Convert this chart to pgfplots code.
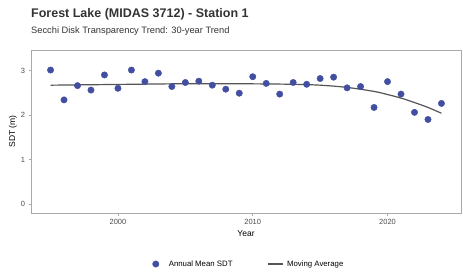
\documentclass[border=0pt]{standalone}
\usepackage{pgfplots}
\pgfplotsset{compat=1.18}
\usepackage{fontspec}
\setmainfont{Liberation Sans}
\setsansfont{Liberation Sans}
\definecolor{ptcol}{RGB}{66,78,160}
\definecolor{linecol}{RGB}{85,85,85}
\definecolor{framecol}{RGB}{170,170,170}
\definecolor{txtcol}{RGB}{77,77,77}
\begin{document}
\begin{tikzpicture}
\path[use as bounding box] (-31pt,-63pt) rectangle (432pt,213pt);
\begin{axis}[
  at={(0pt,0pt)}, anchor=south west,
  scale only axis, width=430pt, height=163pt,
  xmin=1993.55, xmax=2025.45,
  ymin=-0.2, ymax=3.46,
  xtick={2000,2010,2020},
  ytick={0,1,2,3},
  /pgf/number format/assume math mode=true,
  /pgf/number format/1000 sep={},
  tick align=outside,
  tick pos=left,
  major tick length=2.5pt,
  every tick/.style={framecol, line width=0.5pt},
  axis line style={framecol, line width=0.7pt},
  ticklabel style={font=\fontsize{7.5}{8}\selectfont, text=txtcol},
  xlabel={Year}, ylabel={SDT (m)},
  xlabel style={font=\fontsize{8.5}{9}\selectfont, yshift=1pt},
  ylabel style={font=\fontsize{8.5}{9}\selectfont, yshift=-3pt},
  legend style={at={(0.506,-0.313)}, anchor=center, draw=none, fill=none,
    font=\fontsize{7.8}{8}\selectfont, legend columns=2,
    /tikz/every even column/.append style={column sep=33pt}},
  legend cell align=left,
  clip=false,
]
\addplot[only marks, mark=*, mark size=3.2pt, mark options={fill=ptcol, draw=ptcol},
  legend image code/.code={\path[draw=none, fill=none] (-3pt,0pt) rectangle (12pt,0.1pt); \fill[ptcol] (1pt,0pt) circle (3.2pt);}] coordinates {
(1995,3.01) (1996,2.34) (1997,2.66) (1998,2.56) (1999,2.90) (2000,2.60)
(2001,3.01) (2002,2.75) (2003,2.94) (2004,2.64) (2005,2.73) (2006,2.76)
(2007,2.67) (2008,2.58) (2009,2.49) (2010,2.86) (2011,2.71) (2012,2.47)
(2013,2.73) (2014,2.69) (2015,2.82) (2016,2.85) (2017,2.61) (2018,2.64)
(2019,2.17) (2020,2.75) (2021,2.47) (2022,2.06) (2023,1.90) (2024,2.26)
};
\addlegendentry{Annual Mean SDT}
\addplot[linecol, line width=1.2pt, smooth, no marks,
  legend image code/.code={\path[draw=none, fill=none] (0pt,0pt) rectangle (17pt,0.1pt); \draw[linecol, line width=1.2pt] (0pt,0pt) -- (15pt,0pt);}] coordinates {
(1995,2.67) (1998,2.68) (2001,2.69) (2004,2.70) (2007,2.70) (2010,2.70)
(2013,2.69) (2015,2.67) (2017,2.62) (2019,2.53) (2020,2.46) (2021,2.38)
(2022,2.28) (2023,2.17) (2024,2.04)
};
\addlegendentry{Moving Average}
\end{axis}
\draw[framecol, line width=0.7pt] (0pt,0pt) rectangle (430pt,163pt);
\node[anchor=west, inner sep=0pt, font=\bfseries\fontsize{12.5}{13}\selectfont, text=black!80] at (0pt,198.5pt) {Forest Lake (MIDAS 3712) - Station 1};
\node[anchor=west, inner sep=0pt, font=\fontsize{9.3}{10}\selectfont, text=black!80] at (0pt,182pt) {Secchi Disk Transparency Trend: 30-year Trend};
\end{tikzpicture}
\end{document}
